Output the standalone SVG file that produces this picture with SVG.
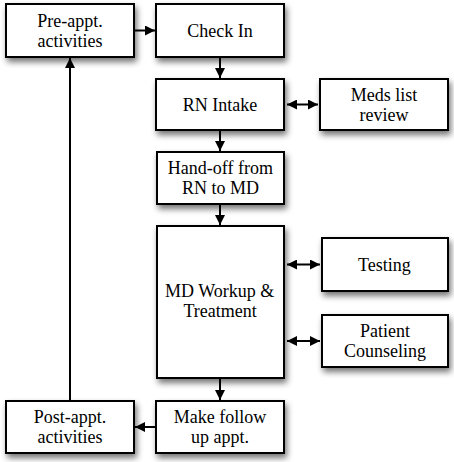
<svg xmlns="http://www.w3.org/2000/svg" width="454" height="462" viewBox="0 0 454 462">
<defs>
<filter id="sh" x="-20%" y="-20%" width="150%" height="160%">
<feGaussianBlur in="SourceAlpha" stdDeviation="3"/>
<feOffset dx="2" dy="4"/>
<feComponentTransfer><feFuncA type="linear" slope="0.55"/></feComponentTransfer>
<feMerge><feMergeNode/><feMergeNode in="SourceGraphic"/></feMerge>
</filter>
<marker id="ah" viewBox="0 0 10 10" refX="10" refY="5" markerWidth="5" markerHeight="5" orient="auto-start-reverse">
<path d="M0,0 L10,5 L0,10 z" fill="#000"/>
</marker>
</defs>
<rect width="454" height="462" fill="#fff"/>
<g id="connectors" stroke="#000" stroke-width="2" fill="none">
<line x1="134" y1="30.5" x2="155" y2="30.5" marker-end="url(#ah)"/>
<line x1="220" y1="57" x2="220" y2="78" marker-end="url(#ah)"/>
<line x1="220" y1="130" x2="220" y2="151" marker-end="url(#ah)"/>
<line x1="220" y1="204" x2="220" y2="225" marker-end="url(#ah)"/>
<line x1="220" y1="378" x2="220" y2="400" marker-end="url(#ah)"/>
<line x1="156" y1="427" x2="135" y2="427" marker-end="url(#ah)"/>
<line x1="70" y1="401" x2="70" y2="58" marker-end="url(#ah)"/>
<line x1="287" y1="104.5" x2="318" y2="104.5" marker-start="url(#ah)" marker-end="url(#ah)"/>
<line x1="287" y1="264.5" x2="320" y2="264.5" marker-start="url(#ah)" marker-end="url(#ah)"/>
<line x1="287" y1="341" x2="320" y2="341" marker-start="url(#ah)" marker-end="url(#ah)"/>
</g>
<g id="pre"><rect x="6" y="4" width="128" height="53" fill="#fff" stroke="#000" stroke-width="2" filter="url(#sh)"/><text x="37.3" y="27" font-family="Liberation Serif" font-size="18">Pre-appt.</text><text x="37.5" y="47" font-family="Liberation Serif" font-size="18">activities</text></g>
<g id="checkin"><rect x="156" y="4" width="128" height="53" fill="#fff" stroke="#000" stroke-width="2" filter="url(#sh)"/><text x="187.3" y="37" font-family="Liberation Serif" font-size="18">Check In</text></g>
<g id="rnintake"><rect x="156" y="79" width="128" height="51" fill="#fff" stroke="#000" stroke-width="2" filter="url(#sh)"/><text x="182.8" y="111" font-family="Liberation Serif" font-size="18">RN Intake</text></g>
<g id="meds"><rect x="320" y="79" width="128" height="51" fill="#fff" stroke="#000" stroke-width="2" filter="url(#sh)"/><text x="350.7" y="101" font-family="Liberation Serif" font-size="18">Meds list</text><text x="359.5" y="121" font-family="Liberation Serif" font-size="18">review</text></g>
<g id="handoff"><rect x="157" y="152" width="127" height="52" fill="#fff" stroke="#000" stroke-width="2" filter="url(#sh)"/><text x="167.8" y="174" font-family="Liberation Serif" font-size="18">Hand-off from</text><text x="182" y="194" font-family="Liberation Serif" font-size="18">RN to MD</text></g>
<g id="mdworkup"><rect x="157" y="226" width="127" height="152" fill="#fff" stroke="#000" stroke-width="2" filter="url(#sh)"/><text x="165" y="297" font-family="Liberation Serif" font-size="18">MD Workup &amp;</text><text x="183.5" y="317" font-family="Liberation Serif" font-size="18">Treatment</text></g>
<g id="testing"><rect x="322" y="238" width="126" height="53" fill="#fff" stroke="#000" stroke-width="2" filter="url(#sh)"/><text x="358" y="271" font-family="Liberation Serif" font-size="18">Testing</text></g>
<g id="counseling"><rect x="322" y="315" width="126" height="52" fill="#fff" stroke="#000" stroke-width="2" filter="url(#sh)"/><text x="360" y="337" font-family="Liberation Serif" font-size="18">Patient</text><text x="344" y="357" font-family="Liberation Serif" font-size="18">Counseling</text></g>
<g id="followup"><rect x="156" y="401" width="128" height="52" fill="#fff" stroke="#000" stroke-width="2" filter="url(#sh)"/><text x="173.8" y="423" font-family="Liberation Serif" font-size="18">Make follow</text><text x="191" y="443" font-family="Liberation Serif" font-size="18">up appt.</text></g>
<g id="post"><rect x="6" y="401" width="128" height="52" fill="#fff" stroke="#000" stroke-width="2" filter="url(#sh)"/><text x="33.7" y="423" font-family="Liberation Serif" font-size="18">Post-appt.</text><text x="37.5" y="443" font-family="Liberation Serif" font-size="18">activities</text></g>
</svg>
